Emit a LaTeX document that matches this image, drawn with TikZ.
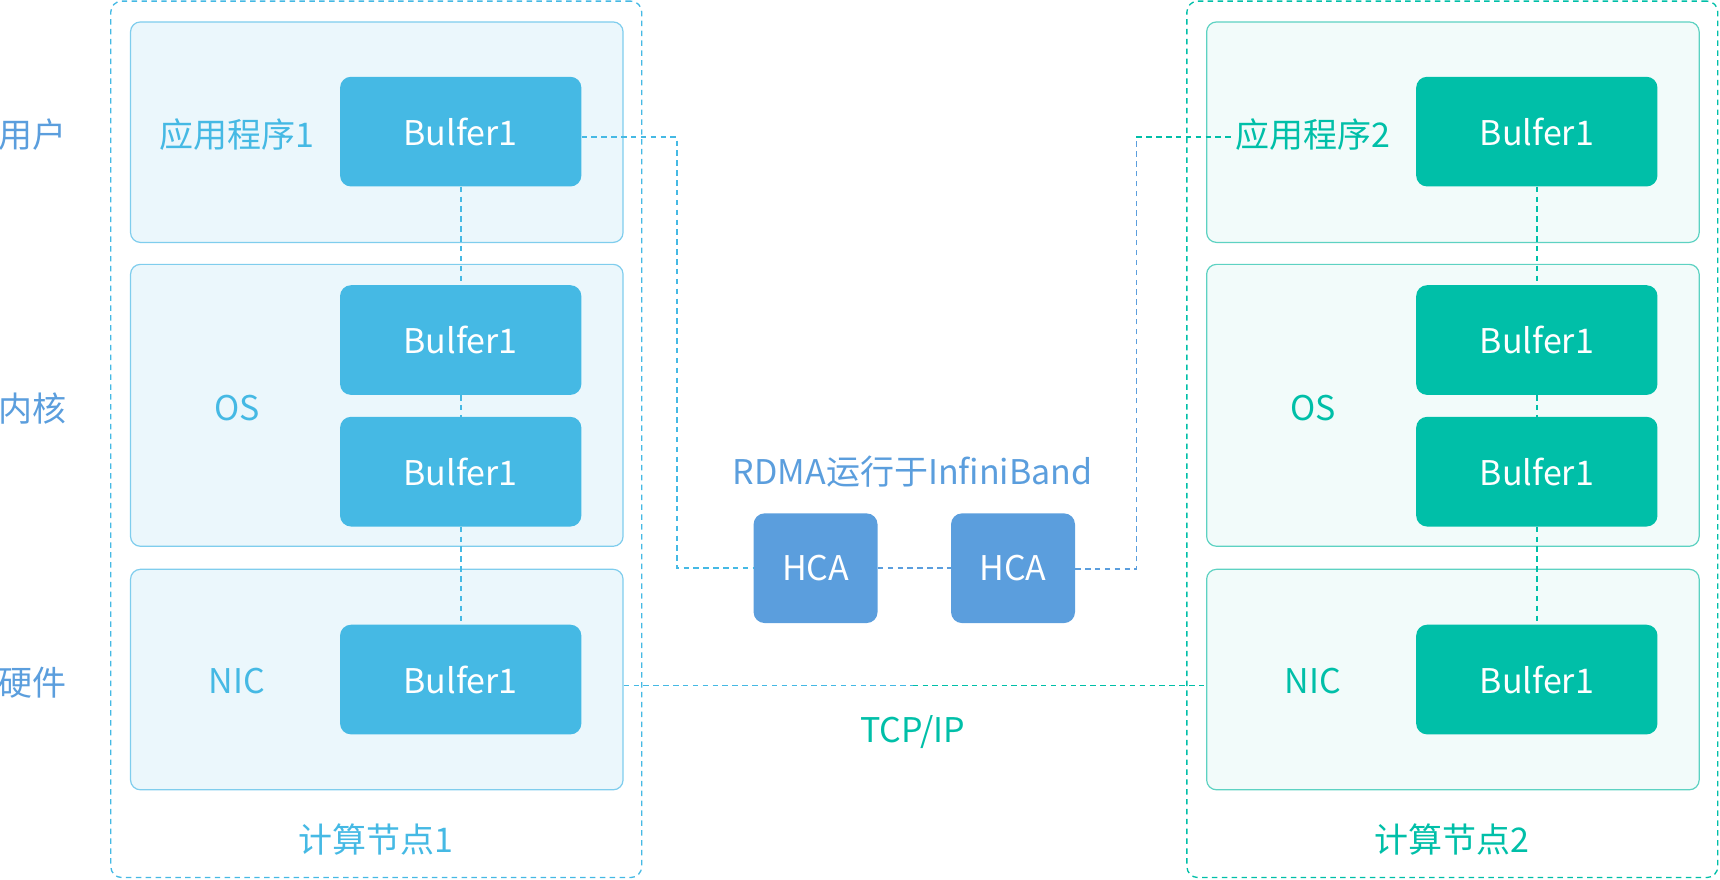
\documentclass[tikz,border=0pt]{standalone}
\usepackage{fontspec}
\setmainfont{Noto Sans CJK SC}
\definecolor{cblue}{HTML}{45B9E4}
\definecolor{cteal}{HTML}{00BFA8}
\definecolor{chca}{HTML}{5B9EDD}
\definecolor{lfill}{HTML}{EBF7FC}
\definecolor{lborder}{HTML}{7FCDED}
\definecolor{rfill}{HTML}{F2FBFA}
\definecolor{rborder}{HTML}{5DD2C2}
\tikzset{
  txt/.style={font=\fontsize{31}{36}\selectfont, inner sep=2pt},
  outerbox/.style={draw, dash pattern=on 5pt off 4pt, line width=1.2pt, rounded corners=10pt, minimum width=484pt, minimum height=799pt},
  layerL/.style={draw=lborder, fill=lfill, line width=1.1pt, rounded corners=9pt, minimum width=449pt},
  layerR/.style={draw=rborder, fill=rfill, line width=1.1pt, rounded corners=9pt, minimum width=449pt},
  bufL/.style={txt, fill=cblue, text=white, rounded corners=10pt, minimum width=220pt, minimum height=100pt},
  bufR/.style={txt, fill=cteal, text=white, rounded corners=10pt, minimum width=220pt, minimum height=100pt},
  hcabox/.style={txt, fill=chca, text=white, rounded corners=10pt, minimum width=113pt, minimum height=100pt},
  dline/.style={dash pattern=on 5pt off 4pt, line width=1.5pt},
}
\begin{document}
\begin{tikzpicture}[x=1pt,y=-1pt]
\useasboundingbox (0,0) rectangle (1568,802);
% outer nodes
\node[outerbox, draw=cblue] (node1) at (343,400.5) {};
\node[outerbox, draw=cteal] (node2) at (1324,400.5) {};
% layers left
\node[layerL, minimum height=201pt] (luser) at (343.5,120.5) {};
\node[layerL, minimum height=257pt] (los) at (343.5,369.5) {};
\node[layerL, minimum height=201pt] (lnic) at (343.5,619.5) {};
% layers right
\node[layerR, minimum height=201pt] (ruser) at (1324.5,120.5) {};
\node[layerR, minimum height=257pt] (ros) at (1324.5,369.5) {};
\node[layerR, minimum height=201pt] (rnic) at (1324.5,619.5) {};
% row labels
\node[txt, text=chca] (lab1) at (30,123) {用户};
\node[txt, text=chca] (lab2) at (30,372) {内核};
\node[txt, text=chca] (lab3) at (30,622) {硬件};
% left texts
\node[txt, text=cblue] (app1) at (216,123) {应用程序1};
\node[txt, text=cblue] (os1) at (216,372) {OS};
\node[txt, text=cblue] (nic1) at (216,621) {NIC};
\node[txt, text=cblue] (cn1) at (343,765) {计算节点1};
% right texts
\node[txt, text=cteal] (app2) at (1197,123) {应用程序2};
\node[txt, text=cteal] (os2) at (1197,372) {OS};
\node[txt, text=cteal] (nic2) at (1197,621) {NIC};
\node[txt, text=cteal] (cn2) at (1324,765) {计算节点2};
% buffers left
\node[bufL] (lb1) at (420,120) {Bulfer1};
\node[bufL] (lb2) at (420,310) {Bulfer1};
\node[bufL] (lb3) at (420,430) {Bulfer1};
\node[bufL] (lb4) at (420,619.5) {Bulfer1};
% buffers right
\node[bufR] (rb1) at (1401,120) {Bulfer1};
\node[bufR] (rb2) at (1401,310) {Bulfer1};
\node[bufR] (rb3) at (1401,430) {Bulfer1};
\node[bufR] (rb4) at (1401,619.5) {Bulfer1};
% HCA
\node[hcabox] (hca1) at (743.5,518) {HCA};
\node[hcabox] (hca2) at (923.5,518) {HCA};
\node[txt, text=chca] (rdma) at (832,430) {RDMA运行于InfiniBand};
\node[txt, text=cteal] (tcp) at (832,667) {TCP/IP};
% vertical connectors
\draw[dline, cblue] (lb1.south) -- (lb2.north);
\draw[dline, cblue] (lb2.south) -- (lb3.north);
\draw[dline, cblue] (lb3.south) -- ([yshift=-3pt]lb4.north);
\draw[dline, cteal] (rb1.south) -- (rb2.north);
\draw[dline, cteal] (rb2.south) -- (rb3.north);
\draw[dline, cteal] (rb3.south) -- ([yshift=-3pt]rb4.north);
% RDMA path
\coordinate (c0) at (lb1.east |- 0,125);
\coordinate (c1) at (617,125);
\coordinate (c2) at (1036,519);
\coordinate (c3) at (1036,125);
\coordinate (c4) at (app2.west |- 0,125);
\draw[dline, cblue] (c0) -- (c1) |- (hca1.west);
\draw[dline, chca] (hca1.east) -- (hca2.west);
\draw[dline, chca] (hca2.east |- c2) -- (c2) -- (c3);
\draw[dline, cteal] (c3) -- (c4);
% TCP path
\coordinate (t0) at (lnic.east |- 0,625);
\coordinate (mid) at (832,625);
\coordinate (t1) at (rnic.west |- 0,625);
\draw[dline, cblue] (t0) -- (mid);
\draw[dline, cteal] (mid) -- (t1);
\end{tikzpicture}
\end{document}
